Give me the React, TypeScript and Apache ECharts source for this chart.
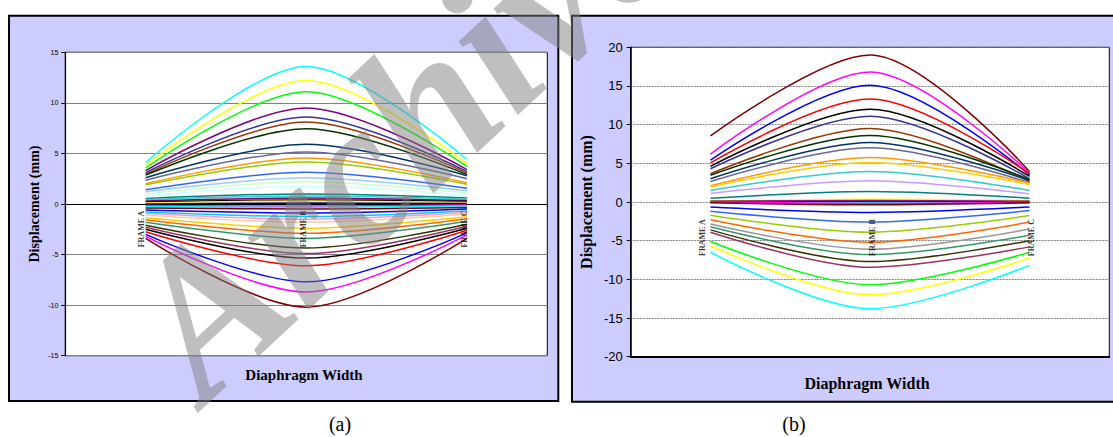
import React, { useEffect, useRef } from "react";
import * as echarts from "echarts";

const categories = ["FRAME A", "FRAME B", "FRAME C"];

// Panel (a)
const leftColors = [
  "#00FFFF", "#FFFF00", "#00FF00", "#800080", "#333399", "#993300", "#003300", "#003366",
  "#666699", "#FF9900", "#99CC00", "#3366FF", "#99CCFF", "#CCFFCC", "#CCFFFF", "#008080",
  "#33CCCC", "#800080", "#000000", "#FFFF00", "#000080", "#FF00FF", "#00FFFF", "#800000",
  "#0000FF", "#00CCFF", "#FF99CC", "#FFCC99", "#FFCC00", "#FF6600", "#339966", "#333300",
  "#993366", "#000000", "#FF0000", "#0000FF", "#FF00FF", "#800000",
];
const leftA = [
  4.1, 3.8, 3.55, 3.3, 3.1, 2.95, 2.85, 2.6, 2.35, 2.0, 1.9, 1.4, 1.2, 1.0, 0.8, 0.55,
  0.45, 0.3, 0.2, 0.1, 0.0, -0.15, -0.25, -0.4, -0.6, -0.8, -0.95, -1.1, -1.35, -1.55,
  -1.8, -2.1, -2.3, -2.5, -2.75, -3.0, -3.2, -3.4,
];
const leftB = [
  13.6, 12.2, 11.1, 9.5, 8.6, 8.1, 7.45, 5.9, 5.15, 4.55, 4.15, 3.15, 2.6, 2.2, 1.75, 1.0,
  0.8, 0.6, 0.4, 0.3, 0.1, -0.2, -0.35, -0.5, -0.9, -1.25, -1.5, -1.8, -2.4, -2.9,
  -3.4, -4.35, -4.9, -5.35, -6.1, -7.7, -8.7, -10.2,
];
const leftC = [
  4.4, 4.0, 3.7, 3.4, 3.2, 3.05, 2.9, 2.8, 2.5, 2.1, 1.95, 1.55, 1.3, 1.1, 0.85, 0.6,
  0.5, 0.35, 0.25, 0.15, 0.05, -0.1, -0.2, -0.35, -0.5, -0.7, -0.85, -1.0, -1.25, -1.45,
  -1.7, -2.0, -2.2, -2.4, -2.6, -2.85, -3.05, -3.4,
];

// Panel (b)
const rightColors = [
  "#800000", "#FF00FF", "#0000FF", "#FF0000", "#000000", "#333399", "#993300", "#003300",
  "#003366", "#666699", "#FF9900", "#FFCC00", "#33CCCC", "#CC99FF", "#008080", "#FFFF00",
  "#800080", "#993366", "#000080", "#00FFFF", "#FF00FF", "#800000", "#0000FF", "#3366FF",
  "#99CC00", "#FF6600", "#969696", "#339966", "#333300", "#993366", "#00FF00", "#FFFF00",
  "#00FFFF",
];
const rightA = [
  8.55, 6.2, 5.4, 5.05, 4.6, 4.3, 3.65, 3.45, 3.0, 2.65, 2.1, 1.95, 1.5, 1.1, 0.47, 0.15,
  0.1, 0.05, 0.0, -0.05, 0.0, -0.1, -0.65, -1.2, -1.7, -2.3, -2.85, -3.2, -3.6, -3.9,
  -5.1, -5.65, -6.5,
];
const rightB = [
  19.0, 16.8, 15.1, 13.3, 12.0, 11.1, 9.5, 8.6, 7.7, 7.0, 5.75, 5.1, 3.95, 2.75, 1.37, 0.35,
  0.2, 0.1, 0.0, -0.1, -0.2, -0.35, -1.35, -2.6, -3.9, -5.2, -6.1, -6.8, -7.7, -8.45,
  -10.7, -12.0, -13.8,
];
const rightC = [
  3.95, 3.75, 3.5, 3.65, 3.3, 3.0, 2.65, 2.9, 2.75, 2.5, 2.45, 2.25, 1.5, 1.05, 0.5, 0.2,
  0.1, 0.05, 0.0, -0.05, -0.05, -0.1, -0.65, -1.1, -1.75, -2.6, -3.5, -4.3, -5.0, -5.8,
  -6.5, -7.25, -8.2,
];

// frame label anchors (value on y axis)
const leftLabelValue = -2.47;
const rightLabelValue = -4.6;

const serif = "'Liberation Serif', 'Times New Roman', serif";
const sans = "'Liberation Sans', Arial, sans-serif";

function buildLines(colors: string[], a: number[], b: number[], c: number[], axisIndex: number) {
  return colors.map((color, i) => ({
    type: "line",
    name: `${axisIndex}-${i}`,
    xAxisIndex: axisIndex,
    yAxisIndex: axisIndex,
    data: [a[i], b[i], c[i]],
    smooth: 0.32,
    showSymbol: false,
    symbol: "none",
    lineStyle: { color, width: 1.5 },
    itemStyle: { color },
    z: 3,
  }));
}

function frameLabels(axisIndex: number, value: number, shifts: number[]) {
  return {
    type: "scatter",
    xAxisIndex: axisIndex,
    yAxisIndex: axisIndex,
    symbolSize: 1,
    itemStyle: { color: "rgba(0,0,0,0)" },
    z: 5,
    data: categories.map((cat, i) => ({
      value: [i, value],
      label: {
        show: true,
        formatter: cat,
        position: "inside",
        rotate: 90,
        offset: [0, shifts[i]],
        fontFamily: serif,
        fontWeight: "bold",
        fontSize: 8,
        color: "#000",
      },
    })),
  };
}

export default function App() {
  const ref = useRef<HTMLDivElement>(null);
  useEffect(() => {
    document.body.style.margin = "0";
    if (!ref.current) return;
    const chart = echarts.init(ref.current, undefined, { renderer: "svg" });
    const option: any = {
      animation: false,
      backgroundColor: "#ffffff",
      grid: [
        {
          left: 65.3, right: 565.7, top: 52.3, bottom: 81.3,
          show: true, backgroundColor: "#ffffff", borderColor: "#000", borderWidth: 1,
        },
        {
          left: 630.7, right: 3.7, top: 47.3, bottom: 80.3,
          show: true, backgroundColor: "#ffffff", borderColor: "#000", borderWidth: 1,
        },
      ],
      xAxis: [
        {
          type: "category", gridIndex: 0, data: categories,
          axisLine: { onZero: true, lineStyle: { color: "#000", width: 1.2 } },
          axisTick: { show: true, length: 3, lineStyle: { color: "#000" } },
          axisLabel: { show: false },
          splitLine: { show: false },
        },
        {
          type: "category", gridIndex: 1, data: categories,
          axisLine: { onZero: false, lineStyle: { color: "#000", width: 2 } },
          axisTick: { show: false },
          axisLabel: { show: false },
          splitLine: { show: false },
        },
      ],
      yAxis: [
        {
          type: "value", gridIndex: 0, min: -15, max: 15, interval: 5,
          axisLine: { show: true, lineStyle: { color: "#000", width: 1.2 } },
          axisTick: { show: true, length: 4, lineStyle: { color: "#000" } },
          axisLabel: { fontSize: 7, fontFamily: sans, color: "#000", margin: 7 },
          splitLine: { lineStyle: { color: "#808080", width: 1 } },
          name: "Displacement (mm)", nameLocation: "middle", nameGap: 24,
          nameTextStyle: { fontFamily: serif, fontWeight: "bold", fontSize: 14, color: "#000" },
        },
        {
          type: "value", gridIndex: 1, min: -20, max: 20, interval: 5,
          axisLine: { show: true, lineStyle: { color: "#000", width: 1.5 } },
          axisTick: { show: true, length: 4, lineStyle: { color: "#000" } },
          axisLabel: { fontSize: 13, fontFamily: sans, color: "#000", margin: 8 },
          splitLine: { lineStyle: { color: "#808080", width: 1, type: [2, 1] } },
          name: "Displacement (mm)", nameLocation: "middle", nameGap: 36,
          nameTextStyle: { fontFamily: serif, fontWeight: "bold", fontSize: 16, color: "#000" },
        },
      ],
      graphic: [
        {
          type: "rect", z: -10,
          shape: { x: 9, y: 15.7, width: 549.3, height: 385.3 },
          style: { fill: "#CCCCFF", stroke: "#000", lineWidth: 2 },
        },
        {
          type: "rect", z: -10,
          shape: { x: 572, y: 15.7, width: 545, height: 386 },
          style: { fill: "#CCCCFF", stroke: "#000", lineWidth: 2 },
        },
        {
          type: "text", x: 304, y: 375, z: 10,
          style: {
            text: "Diaphragm Width", fill: "#000", font: `bold 15px ${serif}`,
            textAlign: "center", textVerticalAlign: "middle",
          },
        },
        {
          type: "text", x: 867, y: 383, z: 10,
          style: {
            text: "Diaphragm Width", fill: "#000", font: `bold 16px ${serif}`,
            textAlign: "center", textVerticalAlign: "middle",
          },
        },
        {
          type: "text", x: 340, y: 424, z: 10,
          style: {
            text: "(a)", fill: "#000", font: `20px ${serif}`,
            textAlign: "center", textVerticalAlign: "middle",
          },
        },
        {
          type: "text", x: 794, y: 424, z: 10,
          style: {
            text: "(b)", fill: "#000", font: `20px ${serif}`,
            textAlign: "center", textVerticalAlign: "middle",
          },
        },
        {
          type: "text", x: 228, y: 430, z: 100, rotation: 0.75,
          style: {
            text: "Archive", fill: "rgba(128,128,128,0.5)",
            font: `italic bold 205px ${serif}`,
            textAlign: "left", textVerticalAlign: "bottom",
          },
        },
      ],
      series: [
        ...buildLines(leftColors, leftA, leftB, leftC, 0),
        ...buildLines(rightColors, rightA, rightB, rightC, 1),
        frameLabels(0, leftLabelValue, [-4, -3, -2]),
        frameLabels(1, rightLabelValue, [-8, 2, 1.5]),
      ],
    };
    chart.setOption(option);
    return () => chart.dispose();
  }, []);
  return (
    <div
      ref={ref}
      style={{ width: 1113, height: 437, position: "absolute", left: 0, top: 0 }}
    />
  );
}
